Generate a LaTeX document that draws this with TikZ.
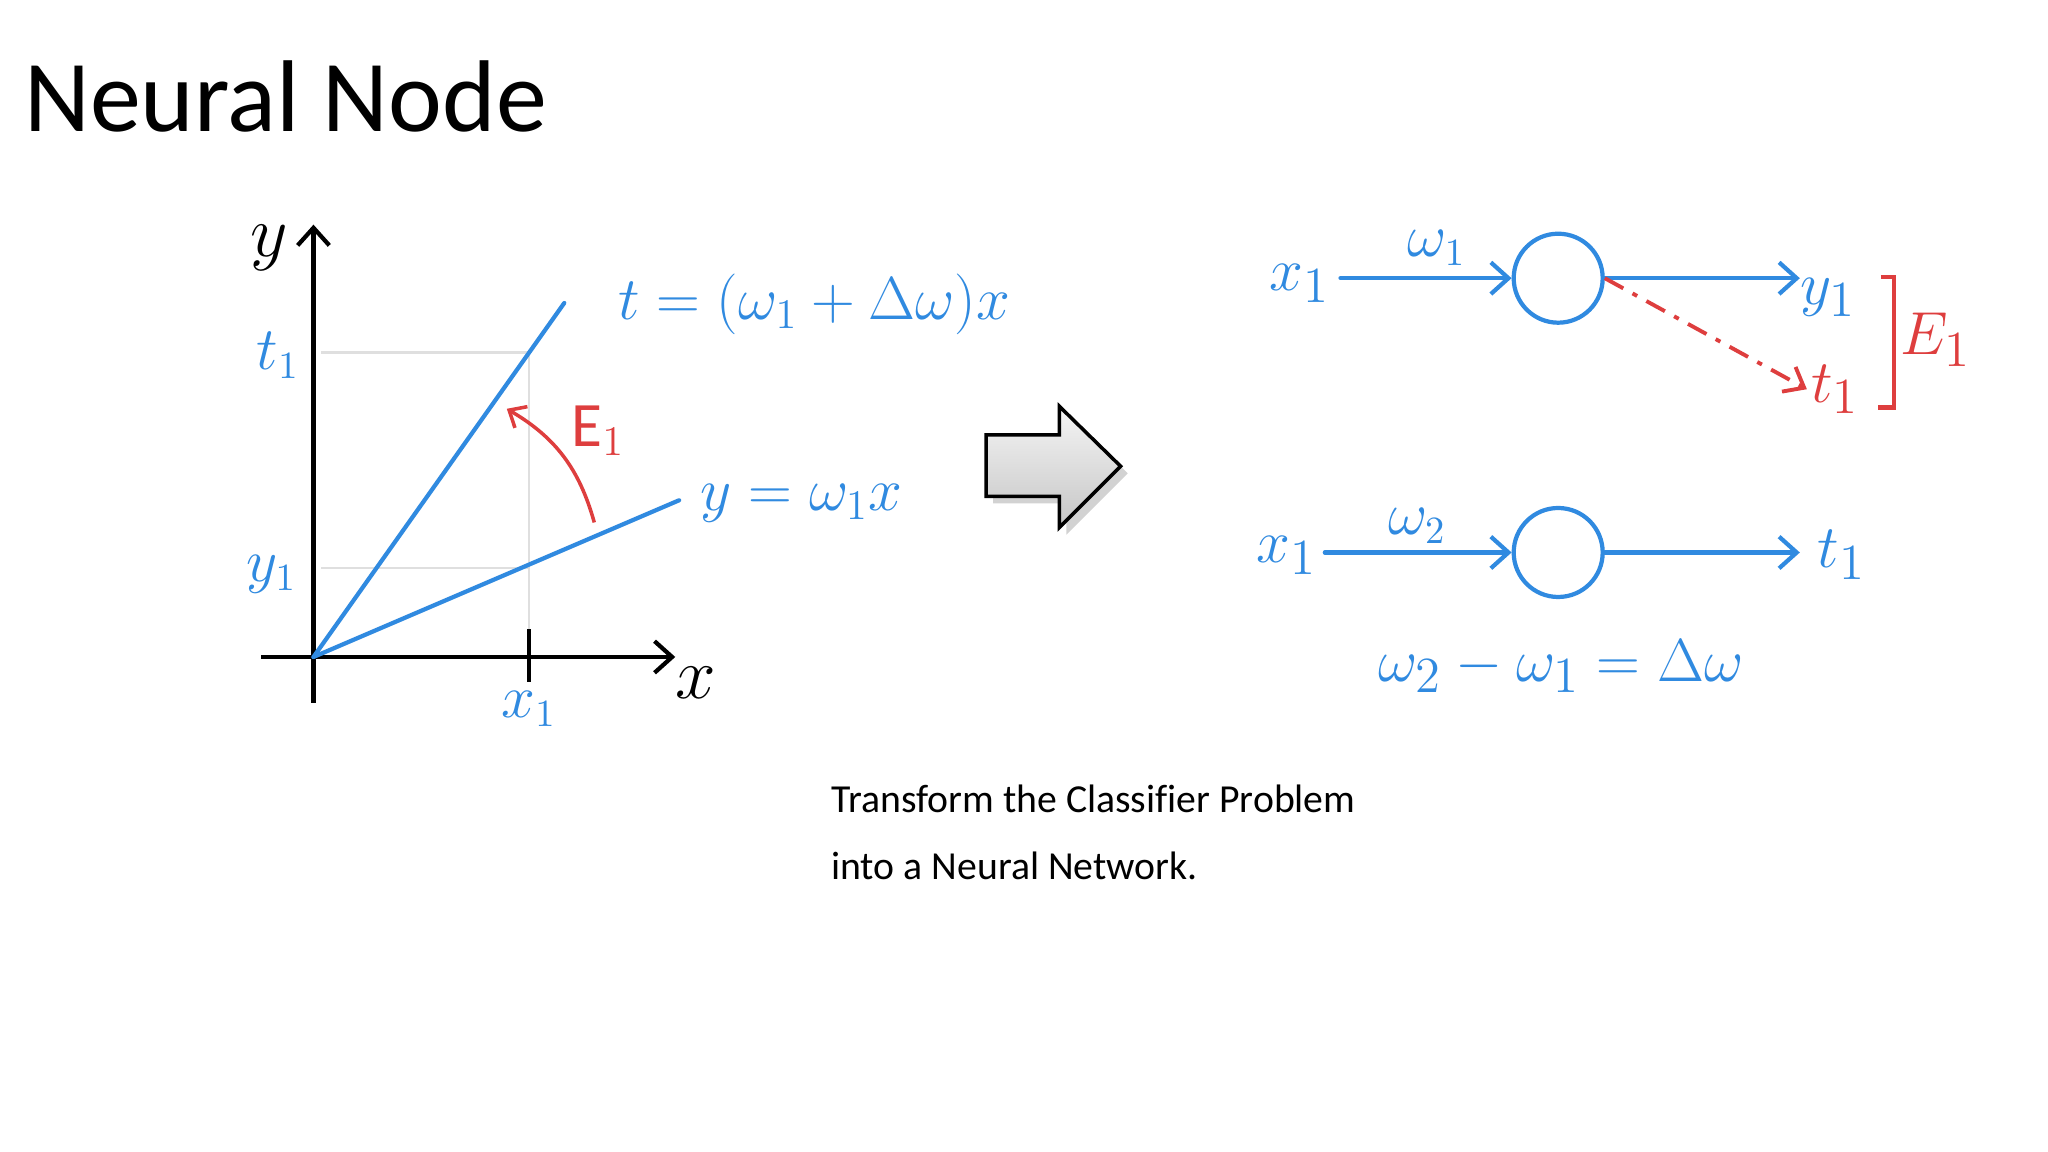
\documentclass[tikz,border=0pt]{standalone}
\usepackage{fontspec}
\setmainfont[Ligatures=NoCommon]{Carlito}
\usetikzlibrary{arrows.meta,shadows}
\definecolor{hblue}{RGB}{48,138,224}
\definecolor{hred}{RGB}{222,62,62}
\begin{document}
\begin{tikzpicture}[x=0.013061cm,y=-0.013061cm,
  hand/.style={hblue, line width=1.2pt, line cap=round},
  tipb/.style={-{Straight Barb[length=5pt,width=9pt]}},
  lab/.style={hblue, font=\fontsize{16}{16}\selectfont, inner sep=1pt},
  biglab/.style={hblue, font=\fontsize{19}{19}\selectfont, inner sep=1pt},
  neuron/.style={circle, draw=hblue, line width=1.2pt, minimum size=0.89cm, inner sep=0pt},
  guide/.style={gray!25, line width=0.7pt}]
\path[use as bounding box, fill=white] (0,0) rectangle (1568,882);

% title and caption
\node[anchor=base west, font=\fontsize{29}{29}\selectfont, inner sep=0pt] (title) at (18,101) {Neural Node};
\node[anchor=base west, font=\fontsize{11.3}{11.3}\selectfont, inner sep=0pt] (cap1) at (636,622) {Transform the Classifier Problem};
\node[anchor=base west, font=\fontsize{11.3}{11.3}\selectfont, inner sep=0pt] (cap2) at (636,673) {into a Neural Network.};

% ---------- left graph ----------
\coordinate (O) at (240,503);
\coordinate (ytop) at (240,172);
\coordinate (ybot) at (240,538);
\coordinate (xl) at (200,503);
\coordinate (xr) at (517,503);
\coordinate (tend) at (432,232);
\coordinate (yend) at (520,383);
\coordinate (T1) at (405,270);
\coordinate (Y1) at (405,435);
\coordinate (X1) at (405,503);
\coordinate (gl1) at (246,270);
\coordinate (gl2) at (246,435);

\draw[guide] (gl1) -- (T1) -- (X1);
\draw[guide] (gl2) -- (Y1);

\draw[black, line width=1.2pt, tipb] (ybot) -- (ytop);
\draw[black, line width=1.2pt, tipb] (xl) -- (xr);
\draw[black, line width=1.2pt] ([yshift=-7]X1) -- ([yshift=8]X1);

\draw[hand] (O) -- (tend);
\draw[hand] (O) -- (yend);

\node[lab] (lt1) at (213,272) {$t_1$};
\node[lab] (ly1) at (208,440) {$y_1$};
\node[lab] (lx1) at (405,543) {$x_1$};
\node[black, font=\fontsize{22}{22}\selectfont] (lx) at (533,523) {$x$};
\node[black, font=\fontsize{22}{22}\selectfont] (ly) at (206,190) {$y$};

\node[biglab, anchor=west, font=\fontsize{18.4}{18.4}\selectfont] (teq) at (470,233) {$t=(\omega_1+\Delta\omega)x$};
\node[biglab, anchor=west, font=\fontsize{17}{17}\selectfont] (yeq) at (533,385) {$y=\omega_1x$};

\node[hred, font=\fontsize{18}{18}\selectfont] (E1) at (458,330) {$\mathrm{E}_1$};
\coordinate (ra) at (455,400);
\coordinate (rb) at (388,313);
\draw[hred, line width=1pt, -{Straight Barb[length=4pt,width=7pt]}] (ra) to[bend right=22] (rb);

% ---------- block arrow ----------
\path[draw=black, line width=1pt, top color=gray!8, bottom color=gray!45,
  drop shadow={opacity=0.35, shadow xshift=2pt, shadow yshift=-2pt}]
  (755,333) -- (811,333) -- (811,311) -- (858,357) -- (811,404) -- (811,380) -- (755,380) -- cycle;

% ---------- right diagram ----------
\node[neuron] (n1) at (1193,213) {};
\node[biglab] (x1a) at (995,217) {$x_1$};
\node[lab] (w1) at (1100,190) {$\omega_1$};
\node[biglab] (y1o) at (1400,228) {$y_1$};
\node[biglab, hred] (t1o) at (1405,298) {$t_1$};
\node[hred, font=\fontsize{19}{19}\selectfont] (E1r) at (1482,260) {$E_1$};

\draw[hand, tipb] (x1a.east |- n1.west) ++(5,0) -- (n1.west);
\draw[hand, tipb] (n1.east) -- (1378,213);
\draw[hred, line width=1.1pt, dash pattern=on 6pt off 3pt on 1.5pt off 3pt, -{Straight Barb[length=5pt,width=8pt]}] (n1.east) -- (t1o.west);
\draw[hred, line width=1.3pt] (1440,212) -- (1450,212) -- (1450,312) -- (1438,312);

\node[neuron] (n2) at (1193,423) {};
\node[biglab] (x1b) at (985,425) {$x_1$};
\node[lab] (w2) at (1085,403) {$\omega_2$};
\node[biglab] (t1b) at (1410,425) {$t_1$};
\draw[hand, tipb] (x1b.east |- n2.west) ++(3,0) -- (n2.west);
\draw[hand, tipb] (n2.east) -- (1378,423);

\node[biglab] (deq) at (1195,510) {$\omega_2-\omega_1=\Delta\omega$};
\end{tikzpicture}
\end{document}
